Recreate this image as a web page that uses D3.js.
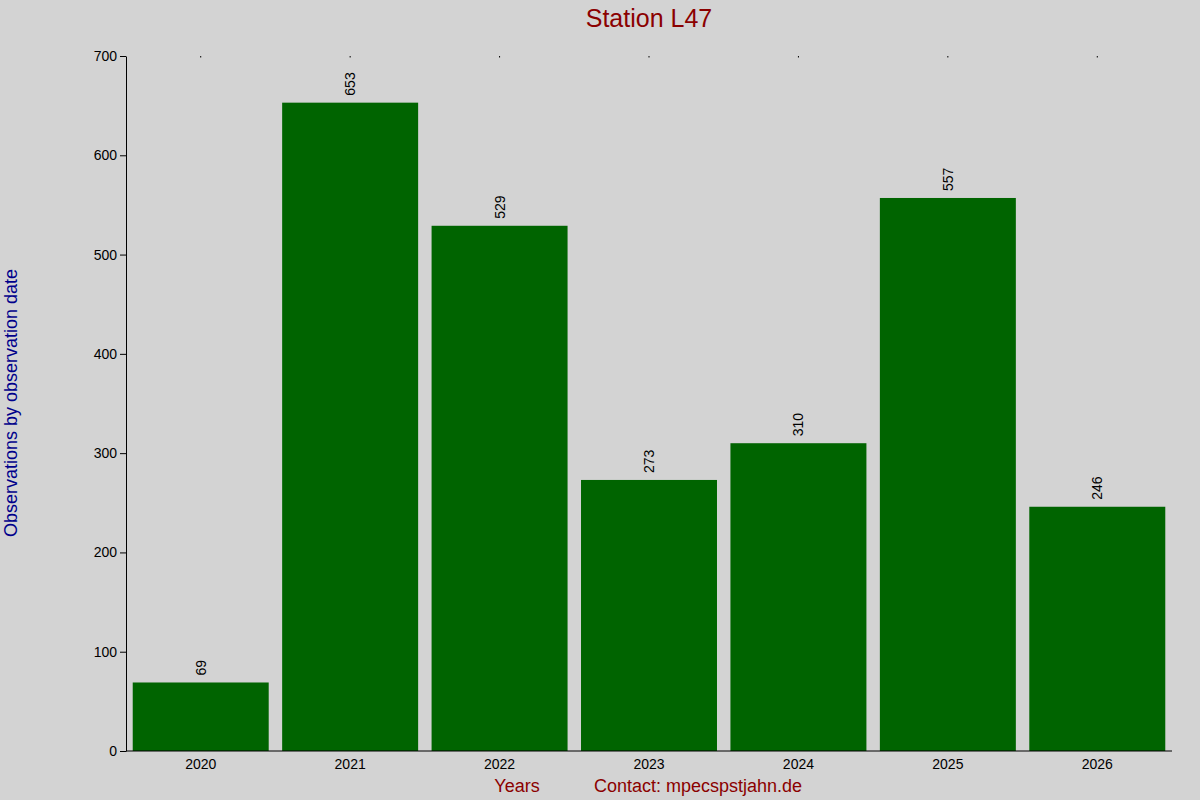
<!DOCTYPE html>
<html><head><meta charset="utf-8">
<script src="https://cdn.jsdelivr.net/npm/d3@7"></script>
<style>body{margin:0;background:#d3d3d3}svg{display:block;font-family:"Liberation Sans",Arial,sans-serif}</style>
</head><body><svg id="c" width="1200" height="800"></svg>
<script>
const years = ["2020","2021","2022","2023","2024","2025","2026"];
const counts = [69,653,529,273,310,557,246];
const yTicks = [0,100,200,300,400,500,600,700];

const svg = d3.select("#c");
svg.append("rect").attr("width",1200).attr("height",800).attr("fill","#d3d3d3");
const L=126,R=1172,T=56,B=751;
const x = d3.scaleBand().domain(years).range([L,R]).paddingInner(0.09).paddingOuter(0.045);
const y = d3.scaleLinear().domain([0,700]).range([B,T]);

svg.selectAll(".bar").data(counts).join("rect")
  .attr("x",(d,i)=>x(years[i])).attr("width",x.bandwidth())
  .attr("y",d=>y(d)).attr("height",d=>B-y(d)).attr("fill","#006400");

svg.selectAll(".val").data(counts).join("text")
  .attr("transform",(d,i)=>`translate(${x(years[i])+x.bandwidth()/2+5},${y(d)-7}) rotate(-90)`)
  .attr("font-size",14).attr("fill","#000").text(d=>d);

const ya = svg.append("g").attr("transform",`translate(${L},0)`)
  .call(d3.axisLeft(y).tickValues(yTicks).tickSize(6).tickSizeOuter(0));
ya.selectAll("text").attr("font-size",14).attr("fill","#000").attr("font-family","Liberation Sans, Arial, sans-serif");
ya.select(".domain").attr("stroke","#000");

const xa = svg.append("g").attr("transform",`translate(0,${B})`)
  .call(d3.axisBottom(x).tickSize(0).tickPadding(8).tickSizeOuter(0));
xa.selectAll("text").attr("font-size",14).attr("fill","#000").attr("font-family","Liberation Sans, Arial, sans-serif");
xa.select(".domain").attr("stroke","#000").attr("d",`M${L},0H${R}`);

svg.selectAll(".tt").data(years).join("line")
  .attr("x1",d=>x(d)+x.bandwidth()/2).attr("x2",d=>x(d)+x.bandwidth()/2)
  .attr("y1",T).attr("y2",T+1.5).attr("stroke","#000");

svg.append("text").attr("x",649).attr("y",27).attr("text-anchor","middle")
  .attr("font-size",25).attr("fill","#8b0000").text("Station L47");
svg.append("text").attr("transform","translate(17,403) rotate(-90)").attr("text-anchor","middle")
  .attr("font-size",18).attr("fill","#00008b").text("Observations by observation date");
svg.append("text").attr("x",517).attr("y",792).attr("text-anchor","middle")
  .attr("font-size",18).attr("fill","#8b0000").text("Years");
svg.append("text").attr("x",698).attr("y",792).attr("text-anchor","middle")
  .attr("font-size",18).attr("fill","#8b0000").text("Contact: mpecspstjahn.de");
</script></body></html>
